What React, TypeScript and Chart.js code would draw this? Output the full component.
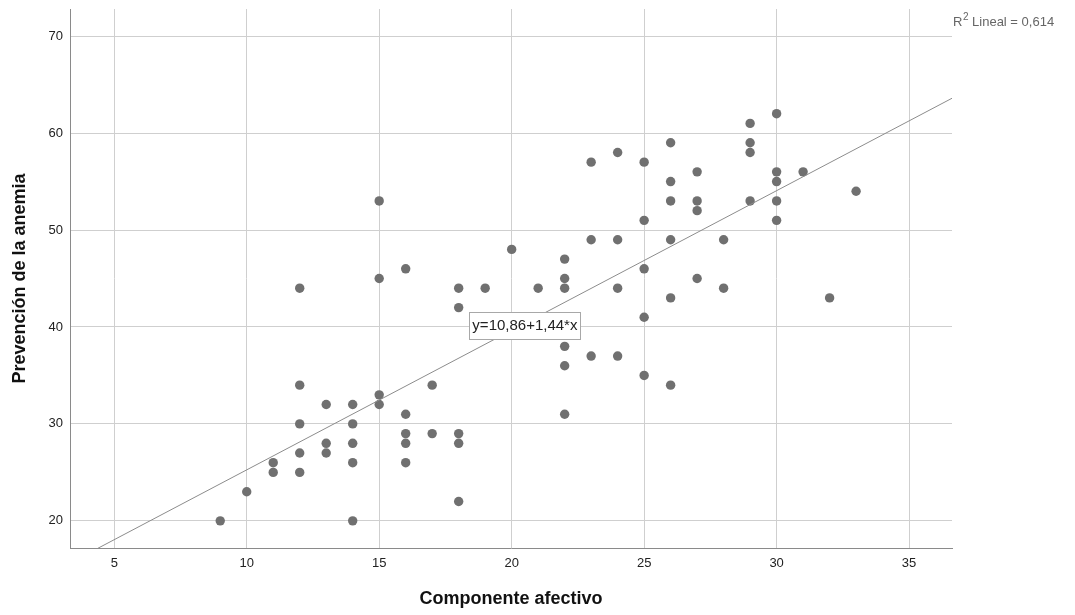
import React, { useEffect, useRef } from "react";
import { Chart, registerables } from "chart.js";

Chart.register(...registerables);

// Componente afectivo (x) and Prevención de la anemia (y), one entry per case
const AFECTIVO = [
  9, 10, 11, 11, 12, 12, 12, 12, 12, 13, 13, 13, 14, 14, 14, 14, 14, 15, 15, 15,
  15, 16, 16, 16, 16, 16, 17, 17, 18, 18, 18, 18, 18, 19, 20, 21, 22, 22, 22, 22,
  22, 22, 23, 23, 23, 24, 24, 24, 24, 25, 25, 25, 25, 25, 26, 26, 26, 26, 26, 26,
  27, 27, 27, 27, 28, 28, 29, 29, 29, 29, 30, 30, 30, 30, 30, 31, 32, 33,
];
const PREVENCION = [
  20, 23, 26, 25, 44, 34, 30, 27, 25, 32, 28, 27, 32, 30, 28, 26, 20, 53, 45, 33,
  32, 46, 31, 29, 28, 26, 34, 29, 44, 42, 29, 28, 22, 44, 48, 44, 47, 45, 44, 38,
  36, 31, 57, 49, 37, 58, 49, 44, 37, 57, 51, 46, 41, 35, 59, 55, 53, 49, 43, 34,
  56, 53, 52, 45, 49, 44, 61, 59, 58, 53, 62, 56, 55, 53, 51, 56, 43, 54,
];

const X_TICKS = [5, 10, 15, 20, 25, 30, 35];
const Y_TICKS = [20, 30, 40, 50, 60, 70];
const X_RANGE = [3.33, 36.62];
const Y_RANGE = [17.2, 72.8];

// Fitted line shown on the chart: y = 10,86 + 1,44*x
const INTERCEPT = 10.86;
const SLOPE = 1.44;
const EQUATION_LABEL = "y=10,86+1,44*x";
const EQUATION_AT = [20.5, 40.2];
const R2_VALUE = "0,614";

const X_TITLE = "Componente afectivo";
const Y_TITLE = "Prevención de la anemia";

const FONT = '"Liberation Sans", Arial, Helvetica, sans-serif';

const annotationPlugin = {
  id: "spssAnnotations",
  afterDatasetsDraw(chart: any) {
    const { ctx, chartArea } = chart;
    const xs = chart.scales.x;
    const ys = chart.scales.y;
    ctx.save();
    // equation label box
    const px = xs.getPixelForValue(EQUATION_AT[0]);
    const py = ys.getPixelForValue(EQUATION_AT[1]);
    ctx.font = `15px ${FONT}`;
    const w = ctx.measureText(EQUATION_LABEL).width;
    const bw = Math.round(w + 6);
    const bh = 27;
    const bx = Math.round(px - bw / 2) + 0.5;
    const by = Math.round(py - bh / 2) + 0.5;
    ctx.fillStyle = "#ffffff";
    ctx.fillRect(bx, by, bw, bh);
    ctx.strokeStyle = "#a8a8a8";
    ctx.lineWidth = 1;
    ctx.strokeRect(bx, by, bw, bh);
    ctx.fillStyle = "#222222";
    ctx.textAlign = "center";
    ctx.textBaseline = "middle";
    ctx.fillText(EQUATION_LABEL, px, py + 1);

    // R² text at top right
    const rx = chartArea.right + 1;
    const ry = chartArea.top + 13;
    ctx.fillStyle = "#666666";
    ctx.textAlign = "left";
    ctx.textBaseline = "middle";
    ctx.font = `13px ${FONT}`;
    ctx.fillText("R", rx, ry);
    let cx = rx + ctx.measureText("R").width;
    ctx.font = `10px ${FONT}`;
    ctx.fillText("2", cx + 0.5, ry - 5);
    cx += ctx.measureText("2").width + 0.5;
    ctx.font = `13px ${FONT}`;
    ctx.fillText(` Lineal = ${R2_VALUE}`, cx, ry);
    ctx.restore();
  },
};

export default function App() {
  const canvasRef = useRef<HTMLCanvasElement | null>(null);

  useEffect(() => {
    document.body.style.margin = "0";
    const canvas = canvasRef.current;
    if (!canvas) return;

    const points = AFECTIVO.map((x, i) => ({ x, y: PREVENCION[i] }));
    const fitLine = X_RANGE.map((x) => ({ x, y: INTERCEPT + SLOPE * x }));

    const chart = new Chart(canvas, {
      type: "scatter",
      data: {
        datasets: [
          {
            label: "Prevención de la anemia",
            data: points,
            backgroundColor: "#707070",
            borderColor: "#707070",
            borderWidth: 0,
            pointRadius: 4.7,
            pointHoverRadius: 4.7,
            order: 2,
          },
          {
            type: "line",
            label: "Lineal",
            data: fitLine,
            borderColor: "#8c8c8c",
            borderWidth: 1,
            pointRadius: 0,
            fill: false,
            order: 1,
          } as any,
        ],
      },
      plugins: [annotationPlugin],
      options: {
        responsive: false,
        animation: false,
        events: [],
        layout: { padding: { top: 9, right: 123, left: 0, bottom: 0 } },
        plugins: {
          legend: { display: false },
          tooltip: { enabled: false },
          title: { display: false },
        },
        scales: {
          x: {
            type: "linear",
            min: X_RANGE[0],
            max: X_RANGE[1],
            afterBuildTicks: (scale: any) => {
              scale.ticks = X_TICKS.map((v) => ({ value: v }));
            },
            afterFit: (scale: any) => {
              scale.height = 67;
              scale.paddingLeft = 0;
              scale.paddingRight = 0;
            },
            grid: { color: "#cfcfcf", lineWidth: 1, drawTicks: false },
            border: { display: true, color: "#8a8a8a", width: 1 },
            ticks: {
              padding: 8,
              color: "#222222",
              font: { family: FONT, size: 13 },
              maxRotation: 0,
            },
            title: {
              display: true,
              text: X_TITLE,
              color: "#111111",
              font: { family: FONT, size: 18, weight: "bold" },
              padding: { top: 0, bottom: 5 },
            },
          },
          y: {
            type: "linear",
            min: Y_RANGE[0],
            max: Y_RANGE[1],
            afterBuildTicks: (scale: any) => {
              scale.ticks = Y_TICKS.map((v) => ({ value: v }));
            },
            afterFit: (scale: any) => {
              scale.width = 70;
              scale.paddingTop = 0;
              scale.paddingBottom = 0;
            },
            grid: { color: "#cfcfcf", lineWidth: 1, drawTicks: false },
            border: { display: true, color: "#8a8a8a", width: 1 },
            ticks: {
              padding: 7,
              color: "#222222",
              font: { family: FONT, size: 13 },
            },
            title: {
              display: true,
              text: Y_TITLE,
              color: "#111111",
              font: { family: FONT, size: 18, weight: "bold" },
              padding: { top: 9, bottom: 0 },
            },
          },
        },
      } as any,
    });

    return () => {
      chart.destroy();
    };
  }, []);

  return (
    <div style={{ position: "absolute", left: 0, top: 0, width: 1075, height: 615, background: "#ffffff" }}>
      <canvas ref={canvasRef} width={1075} height={615} />
    </div>
  );
}
